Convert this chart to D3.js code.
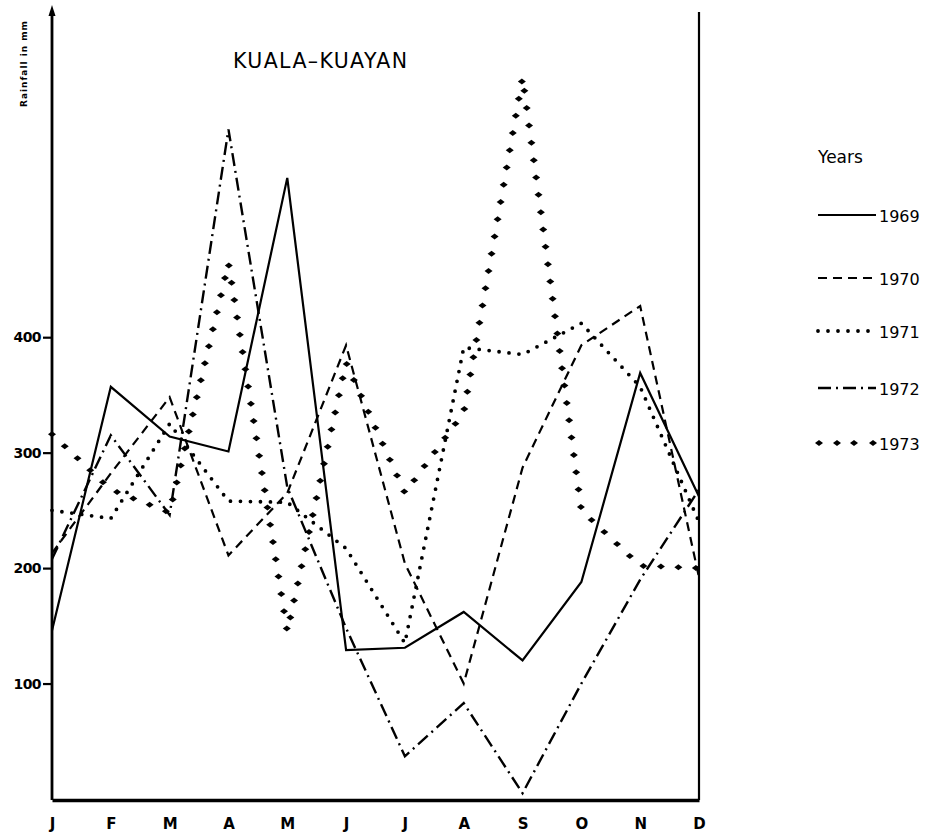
<!DOCTYPE html>
<html>
<head>
<meta charset="utf-8">
<script src="https://cdn.jsdelivr.net/npm/d3@7"></script>
<style>
  body { margin: 0; background: #fff; }
  text { font-family: "DejaVu Sans", sans-serif; fill: #000; }
</style>
</head>
<body>
<div id="chart"></div>
<script>
// monthly rainfall (mm) at Kuala-Kuayan
const months = ["J", "F", "M", "A", "M", "J", "J", "A", "S", "O", "N", "D"];
const rain1969 = [146, 357, 314, 301, 538, 129, 131, 162, 120, 188, 369, 262];
const rain1970 = [213, 282, 348, 211, 265, 393, 204, 100, 287, 393, 427, 192];
const rain1971 = [250, 243, 325, 258, 257, 217, 135, 391, 385, 412, 357, 240];
const rain1972 = [208, 315, 246, 580, 270, 148, 37, 83, 5, 100, 190, 268];
const rain1973 = [316, 268, 248, 464, 145, 378, 265, 335, 625, 250, 202, 200];
const years = ["1969", "1970", "1971", "1972", "1973"];
const yTicks = [100, 200, 300, 400];

const width = 937, height = 838;

const svg = d3.select("#chart").append("svg")
    .attr("width", width)
    .attr("height", height);

const x = d3.scalePoint()
    .domain(d3.range(months.length))
    .range([52, 699]);

const y = d3.scaleLinear()
    .domain([0, 686])
    .range([799, 7]);

// line styles per year
const styles = {
    "1969": { dash: null, width: 2.2 },
    "1970": { dash: "9,6", width: 2.2 },
    "1971": { dash: "0,10", width: 3.8, cap: "round" },
    "1972": { dash: "13,5,2,5", width: 2.4 },
    "1973": { diamonds: true }
};
const series = [rain1969, rain1970, rain1971, rain1972, rain1973];

const line = d3.line()
    .x((d, i) => x(i))
    .y(d => y(d));

const diamond = (cx, cy) => `M${cx - 4},${cy}L${cx},${cy - 3}L${cx + 4},${cy}L${cx},${cy + 3}Z`;

series.forEach((vals, k) => {
    const st = styles[years[k]];
    const p = svg.append("path")
        .datum(vals)
        .attr("d", line)
        .attr("fill", "none")
        .attr("stroke", "#000")
        .attr("stroke-width", st.width || 2)
        .attr("stroke-dasharray", st.dash)
        .attr("stroke-linecap", st.cap || "butt")
        .attr("stroke-linejoin", "miter");
    if (st.diamonds) {
        // 1973 is drawn as a string of diamonds along the line
        p.attr("stroke", "none");
        const node = p.node();
        const total = node.getTotalLength();
        const pts = d3.range(0, total, 17.5).map(l => node.getPointAtLength(l));
        svg.append("g").selectAll("path")
            .data(pts)
            .join("path")
            .attr("d", d => diamond(d.x, d.y))
            .attr("fill", "#000");
    }
});

// axes
svg.append("line")
    .attr("x1", x(0)).attr("x2", x(0))
    .attr("y1", y(0) + 1).attr("y2", 12)
    .attr("stroke", "#000").attr("stroke-width", 2.8);
svg.append("path")
    .attr("d", `M${x(0) - 3.5},16L${x(0)},5L${x(0) + 3.5},16Z`)
    .attr("fill", "#000");
svg.append("line")
    .attr("x1", x(11)).attr("x2", x(11))
    .attr("y1", y(0) + 1).attr("y2", 12)
    .attr("stroke", "#000").attr("stroke-width", 2.2);

const xAxis = svg.append("g")
    .attr("transform", `translate(0,${y(0) + 1})`)
    .call(d3.axisBottom(x).tickSize(0).tickPadding(18).tickFormat(i => months[i]));
xAxis.select(".domain").attr("stroke-width", 3.6);
xAxis.selectAll("text")
    .attr("font-size", 15)
    .attr("font-weight", "bold")
    .attr("font-family", "DejaVu Sans, sans-serif");

const yAxis = svg.append("g")
    .attr("transform", `translate(${x(0)},0)`)
    .call(d3.axisLeft(y).tickValues(yTicks).tickSize(9).tickPadding(2));
yAxis.select(".domain").remove();
yAxis.selectAll(".tick line").attr("stroke-width", 2.2);
yAxis.selectAll("text")
    .attr("font-size", 14)
    .attr("font-weight", "bold")
    .attr("font-family", "DejaVu Sans, sans-serif")
    .attr("letter-spacing", -0.6);

svg.append("text")
    .attr("transform", "translate(27,64) rotate(-90)")
    .attr("text-anchor", "middle")
    .attr("font-size", 9)
    .attr("font-weight", "bold")
    .attr("textLength", 86)
    .text("Rainfall in mm");

svg.append("text")
    .attr("x", 233)
    .attr("y", 68)
    .attr("font-size", 20.5)
    .attr("textLength", 174)
    .text("KUALA–KUAYAN");

// legend
const legend = svg.append("g").attr("transform", "translate(818,0)");
legend.append("text")
    .attr("x", 0).attr("y", 163)
    .attr("font-size", 17)
    .text("Years");

const legendY = [215, 278, 331, 388, 443];
years.forEach((yr, k) => {
    const st = styles[yr];
    const ly = legendY[k];
    if (st.diamonds) {
        legend.append("g").selectAll("path")
            .data([0, 18, 35, 54])
            .join("path")
            .attr("d", d => diamond(d + 1, ly))
            .attr("fill", "#000");
    } else {
        legend.append("line")
            .attr("x1", 0).attr("x2", 58)
            .attr("y1", ly).attr("y2", ly)
            .attr("stroke", "#000")
            .attr("stroke-width", st.width)
            .attr("stroke-dasharray", st.dash)
            .attr("stroke-linecap", st.cap || "butt");
    }
    legend.append("text")
        .attr("x", 61).attr("y", ly + 7)
        .attr("font-size", 16)
        .text(yr);
});
</script>
</body>
</html>
